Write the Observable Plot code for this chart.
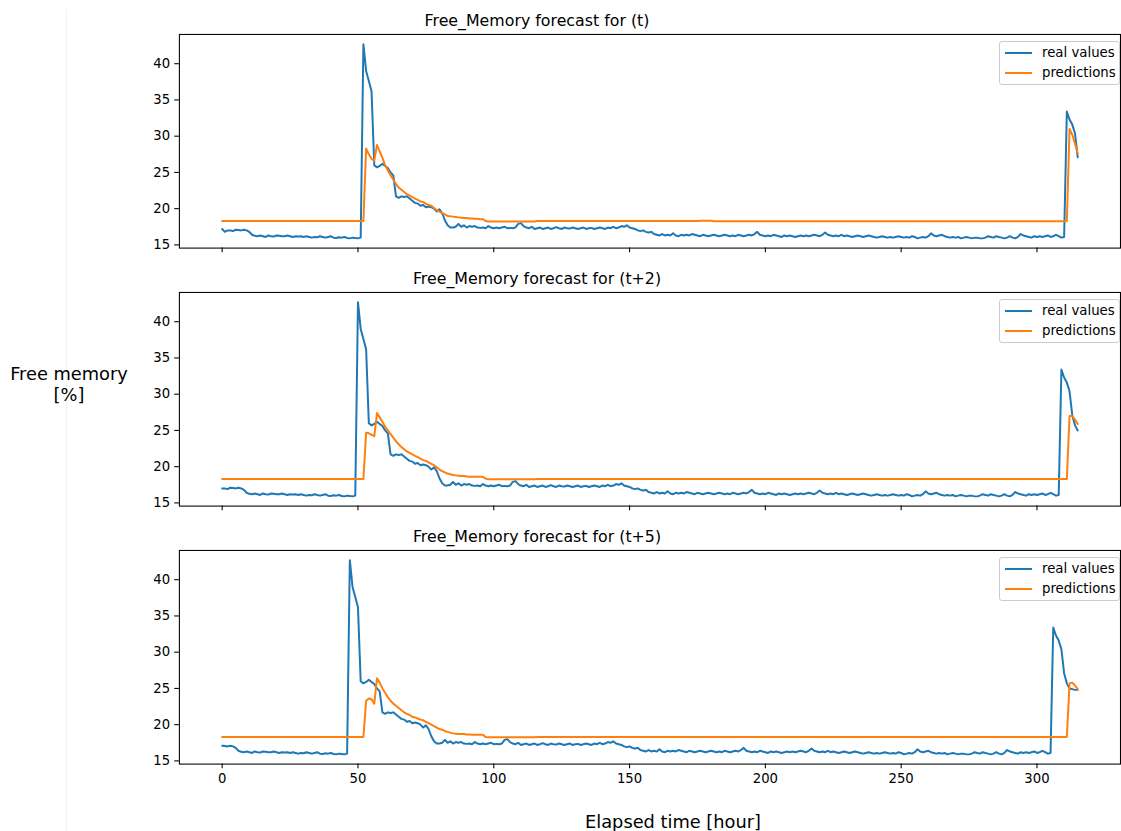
<!DOCTYPE html>
<html>
<head>
<meta charset="utf-8">
<script src="https://cdn.jsdelivr.net/npm/d3@7"></script>
<script src="https://cdn.jsdelivr.net/npm/@observablehq/plot@0.6"></script>
<style>
  html, body { margin: 0; padding: 0; background: #fff; }
  #root { position: relative; width: 1121px; height: 831px; overflow: hidden; font-family: "DejaVu Sans", sans-serif; color: #000; }
  .panel { position: absolute; left: 0; }
  .title { position: absolute; font-size: 15.8px; line-height: 15.8px; white-space: nowrap; transform: translateX(-50%); }
  .legend { position: absolute; left: 999px; width: 119px; height: 42px; border: 1px solid #cccccc; border-radius: 3px; background: rgba(255,255,255,0.8); }
  .legend .sw { position: absolute; left: 5px; width: 27px; height: 2px; }
  .legend .lab { position: absolute; left: 42px; font-size: 13.3px; line-height: 13.3px; white-space: nowrap; }
  .axlabel { position: absolute; font-size: 17.8px; white-space: nowrap; text-align: center; }
  .vline { position: absolute; left: 66px; top: 10px; width: 1px; height: 821px; background: #f2f2f2; }
</style>
</head>
<body>
<div id="root"></div>
<script>
// ---------------- data ----------------
const titles = ["Free_Memory forecast for (t)", "Free_Memory forecast for (t+2)", "Free_Memory forecast for (t+5)"];
const seriesNames = ["real values", "predictions"];
const xTicks = [0, 50, 100, 150, 200, 250, 300];
const yTicks = [15, 20, 25, 30, 35, 40];
const horizonShift = [0, 2, 5];   // real series is shifted by the forecast horizon

// real free-memory readings (hourly), index 0 = hour 0 of the (t) panel
const realValues = [
  17.2, 16.8, 17.0, 17.0, 16.9, 17.1, 17.05, 17.0, 17.1, 17.0, 16.8, 16.4, 16.25, 16.2, 16.3, 16.2, 16.1, 16.3, 16.2, 16.15,
  16.3, 16.25, 16.2, 16.2, 16.3, 16.2, 16.1, 16.2, 16.15, 16.2, 16.1, 16.2, 16.1, 16.0, 16.1, 16.05, 16.2, 16.1, 16.0, 16.1,
  16.2, 16.0, 15.95, 16.05, 16.0, 16.1, 15.95, 15.9, 16.0, 15.95, 15.9, 16.0, 42.7, 39.0, 37.6, 36.2, 26.0, 25.7, 25.9, 26.2,
  25.9, 25.6, 25.0, 24.6, 21.7, 21.5, 21.7, 21.6, 21.7, 21.4, 21.1, 20.8, 20.7, 20.4, 20.5, 20.2, 20.3, 20.2, 20.0, 19.6,
  19.9, 19.4, 18.4, 17.7, 17.4, 17.4, 17.5, 17.9, 17.5, 17.7, 17.4, 17.6, 17.5, 17.6, 17.4, 17.35, 17.4, 17.3, 17.6, 17.4,
  17.3, 17.4, 17.3, 17.4, 17.5, 17.3, 17.35, 17.3, 17.4, 17.9, 18.0, 17.6, 17.4, 17.3, 17.5, 17.2, 17.3, 17.4, 17.2, 17.3,
  17.4, 17.2, 17.3, 17.45, 17.3, 17.2, 17.4, 17.3, 17.25, 17.4, 17.3, 17.2, 17.3, 17.4, 17.2, 17.3, 17.35, 17.2, 17.3, 17.4,
  17.3, 17.2, 17.4, 17.3, 17.5, 17.3, 17.4, 17.6, 17.5, 17.7, 17.4, 17.3, 17.2, 17.0, 16.9, 17.0, 16.8, 16.7, 16.8, 16.5,
  16.4, 16.3, 16.5, 16.3, 16.4, 16.3, 16.6, 16.3, 16.2, 16.4, 16.3, 16.4, 16.3, 16.5, 16.4, 16.3, 16.2, 16.4, 16.3, 16.2,
  16.3, 16.4, 16.3, 16.2, 16.3, 16.4, 16.3, 16.2, 16.3, 16.2, 16.4, 16.3, 16.2, 16.3, 16.4, 16.3, 16.5, 16.8, 16.4, 16.3,
  16.2, 16.3, 16.2, 16.4, 16.3, 16.2, 16.1, 16.3, 16.2, 16.3, 16.2, 16.1, 16.2, 16.3, 16.2, 16.3, 16.2, 16.3, 16.4, 16.3,
  16.2, 16.4, 16.7, 16.4, 16.3, 16.2, 16.3, 16.2, 16.4, 16.2, 16.3, 16.2, 16.1, 16.2, 16.3, 16.2, 16.1, 16.2, 16.3, 16.2,
  16.1, 16.0, 16.1, 16.2, 16.1, 16.0, 16.1, 16.0, 16.1, 16.2, 16.1, 16.0, 16.1, 16.0, 16.2, 16.1, 15.9, 16.0, 16.1, 16.0,
  16.2, 16.6, 16.3, 16.2, 16.3, 16.4, 16.2, 16.1, 16.0, 16.1, 16.0, 16.1, 15.9, 16.0, 16.1, 16.0, 15.9, 16.0, 16.0, 15.9,
  15.9, 16.0, 16.2, 16.1, 16.0, 16.2, 16.1, 16.0, 15.9, 16.0, 16.2, 16.0, 15.9, 16.1, 16.5, 16.3, 16.2, 16.1, 16.0, 16.2,
  16.1, 16.2, 16.1, 16.2, 16.3, 16.1, 16.2, 16.4, 16.2, 16.0, 16.1, 33.4, 32.3, 31.6, 30.4, 27.1, 25.7, 25.0, 24.9, 24.8,
  24.8
];

// predictions, hours 0..315
const predT0 = [
  18.3, 18.3, 18.3, 18.3, 18.3, 18.3, 18.3, 18.3, 18.3, 18.3, 18.3, 18.3, 18.3, 18.3, 18.3, 18.3, 18.3, 18.3, 18.3, 18.3,
  18.3, 18.3, 18.3, 18.3, 18.3, 18.3, 18.3, 18.3, 18.3, 18.3, 18.3, 18.3, 18.3, 18.3, 18.3, 18.3, 18.3, 18.3, 18.3, 18.3,
  18.3, 18.3, 18.3, 18.3, 18.3, 18.3, 18.3, 18.3, 18.3, 18.3,
  18.3, 18.3, 18.3, 28.3, 27.5, 26.9, 26.6, 28.8, 27.9, 27.0,
  26.0, 25.3, 24.6, 24.0, 23.4, 22.9, 22.6, 22.3, 22.0, 21.8,
  21.6, 21.4, 21.2, 21.0, 20.9, 20.7, 20.5, 20.4, 20.1, 19.8,
  19.6, 19.4, 19.2, 19.0, 18.95, 18.9, 18.85, 18.8, 18.75, 18.7,
  18.7, 18.65, 18.65, 18.6, 18.6, 18.55, 18.55, 18.3, 18.22, 18.22,
  18.22, 18.22, 18.22, 18.22, 18.22, 18.22, 18.22, 18.22, 18.22, 18.22,
  18.22, 18.22, 18.22, 18.22, 18.22, 18.22, 18.3, 18.3, 18.3, 18.3,
  18.3, 18.3, 18.3, 18.3, 18.3, 18.3, 18.3, 18.3, 18.3, 18.3, 18.3, 18.3, 18.3, 18.3, 18.3, 18.3, 18.3, 18.3, 18.3, 18.3,
  18.3, 18.3, 18.3, 18.3, 18.3, 18.3, 18.3, 18.3, 18.3, 18.3, 18.3, 18.3, 18.3, 18.3, 18.3, 18.3, 18.3, 18.3, 18.3, 18.3,
  18.3, 18.3, 18.3, 18.3, 18.3, 18.3, 18.3, 18.3, 18.3, 18.3,
  18.3, 18.3, 18.3, 18.3, 18.3, 18.3, 18.33, 18.33, 18.33, 18.33,
  18.33, 18.27, 18.27, 18.27, 18.27, 18.27, 18.27, 18.27, 18.27, 18.27,
  18.27, 18.27, 18.27, 18.27, 18.27, 18.27, 18.27, 18.27, 18.27, 18.27, 18.27, 18.27, 18.27, 18.27, 18.27, 18.27, 18.27, 18.27, 18.27, 18.27,
  18.27, 18.27, 18.27, 18.27, 18.27, 18.27, 18.27, 18.27, 18.27, 18.27, 18.27, 18.27, 18.27, 18.27, 18.27, 18.27, 18.27, 18.27, 18.27, 18.27,
  18.27, 18.27, 18.27, 18.27, 18.27, 18.27, 18.27, 18.27, 18.27, 18.27, 18.27, 18.27, 18.27, 18.27, 18.27, 18.27, 18.27, 18.27, 18.27, 18.27,
  18.27, 18.27, 18.27, 18.27, 18.27, 18.27, 18.27, 18.27, 18.27, 18.27, 18.27, 18.27, 18.27, 18.27, 18.27, 18.27, 18.27, 18.27, 18.27, 18.27,
  18.27, 18.27, 18.27, 18.27, 18.27, 18.27, 18.27, 18.27, 18.27, 18.27, 18.27, 18.27, 18.27, 18.27, 18.27, 18.27, 18.27, 18.27, 18.27, 18.27,
  18.27, 18.27, 18.27, 18.27, 18.27, 18.27, 18.27, 18.27, 18.27, 18.27, 18.27, 18.27, 18.27, 18.27, 18.27, 18.27, 18.27, 18.27, 18.27, 18.27,
  18.27, 18.3, 31.0, 30.2, 29.0, 27.6
];

const predT2 = [
  18.3, 18.3, 18.3, 18.3, 18.3, 18.3, 18.3, 18.3, 18.3, 18.3, 18.3, 18.3, 18.3, 18.3, 18.3, 18.3, 18.3, 18.3, 18.3, 18.3,
  18.3, 18.3, 18.3, 18.3, 18.3, 18.3, 18.3, 18.3, 18.3, 18.3, 18.3, 18.3, 18.3, 18.3, 18.3, 18.3, 18.3, 18.3, 18.3, 18.3,
  18.3, 18.3, 18.3, 18.3, 18.3, 18.3, 18.3, 18.3, 18.3, 18.3,
  18.3, 18.3, 18.3, 24.7, 24.6, 24.4, 24.2, 27.4, 26.8, 26.2,
  25.5, 25.0, 24.5, 24.0, 23.5, 23.1, 22.7, 22.4, 22.1, 21.9,
  21.7, 21.5, 21.3, 21.1, 20.9, 20.8, 20.6, 20.4, 20.2, 19.9,
  19.6, 19.4, 19.2, 19.05, 18.95, 18.85, 18.8, 18.75, 18.7, 18.7,
  18.65, 18.6, 18.6, 18.6, 18.6, 18.6, 18.6, 18.35, 18.25, 18.25,
  18.25, 18.25, 18.25, 18.25, 18.25, 18.25, 18.25, 18.25, 18.25, 18.25,
  18.25, 18.25, 18.25, 18.25, 18.25, 18.25, 18.3, 18.3, 18.3, 18.3,
  18.3, 18.3, 18.3, 18.3, 18.3, 18.3, 18.3, 18.3, 18.3, 18.3, 18.3, 18.3, 18.3, 18.3, 18.3, 18.3, 18.3, 18.3, 18.3, 18.3,
  18.3, 18.3, 18.3, 18.3, 18.3, 18.3, 18.3, 18.3, 18.3, 18.3, 18.3, 18.3, 18.3, 18.3, 18.3, 18.3, 18.3, 18.3, 18.3, 18.3,
  18.3, 18.3, 18.3, 18.3, 18.3, 18.3, 18.3, 18.3, 18.3, 18.3, 18.3, 18.3, 18.3, 18.3, 18.3, 18.3, 18.3, 18.3, 18.3, 18.3,
  18.3, 18.3, 18.3, 18.3, 18.3, 18.3, 18.3, 18.3, 18.3, 18.3, 18.3, 18.3, 18.3, 18.3, 18.3, 18.3, 18.3, 18.3, 18.3, 18.3,
  18.3, 18.3, 18.3, 18.3, 18.3, 18.3, 18.3, 18.3, 18.3, 18.3, 18.3, 18.3, 18.3, 18.3, 18.3, 18.3, 18.3, 18.3, 18.3, 18.3,
  18.3, 18.3, 18.3, 18.3, 18.3, 18.3, 18.3, 18.3, 18.3, 18.3, 18.3, 18.3, 18.3, 18.3, 18.3, 18.3, 18.3, 18.3, 18.3, 18.3,
  18.3, 18.3, 18.3, 18.3, 18.3, 18.3, 18.3, 18.3, 18.3, 18.3, 18.3, 18.3, 18.3, 18.3, 18.3, 18.3, 18.3, 18.3, 18.3, 18.3,
  18.3, 18.3, 18.3, 18.3, 18.3, 18.3, 18.3, 18.3, 18.3, 18.3, 18.3, 18.3, 18.3, 18.3, 18.3, 18.3, 18.3, 18.3, 18.3, 18.3,
  18.3, 18.3, 18.3, 18.3, 18.3, 18.3, 18.3, 18.3, 18.3, 18.3, 18.3, 18.3, 18.3, 18.3, 18.3, 18.3, 18.3, 18.3, 18.3, 18.3,
  18.3, 18.3, 18.3, 18.3, 18.3, 18.3, 18.3, 18.3, 18.3, 18.3,
  18.3, 18.3, 27.0, 27.0, 26.5, 25.9
];

const predT5 = [
  18.3, 18.3, 18.3, 18.3, 18.3, 18.3, 18.3, 18.3, 18.3, 18.3, 18.3, 18.3, 18.3, 18.3, 18.3, 18.3, 18.3, 18.3, 18.3, 18.3,
  18.3, 18.3, 18.3, 18.3, 18.3, 18.3, 18.3, 18.3, 18.3, 18.3, 18.3, 18.3, 18.3, 18.3, 18.3, 18.3, 18.3, 18.3, 18.3, 18.3,
  18.3, 18.3, 18.3, 18.3, 18.3, 18.3, 18.3, 18.3, 18.3, 18.3,
  18.3, 18.3, 18.3, 23.3, 23.6, 23.5, 22.9, 26.4, 25.8, 25.0,
  24.4, 23.8, 23.3, 22.9, 22.6, 22.3, 22.0, 21.7, 21.5, 21.3,
  21.1, 21.0, 20.85, 20.7, 20.6, 20.4, 20.2, 20.0, 19.8, 19.6,
  19.4, 19.3, 19.1, 19.0, 18.9, 18.8, 18.75, 18.7, 18.7, 18.7,
  18.65, 18.65, 18.6, 18.6, 18.6, 18.6, 18.6, 18.3, 18.25, 18.25,
  18.25, 18.25, 18.25, 18.25, 18.25, 18.25, 18.25, 18.25, 18.25, 18.25,
  18.25, 18.25, 18.25, 18.25, 18.25, 18.25, 18.3, 18.3, 18.3, 18.3,
  18.3, 18.3, 18.3, 18.3, 18.3, 18.3, 18.3, 18.3, 18.3, 18.3, 18.3, 18.3, 18.3, 18.3, 18.3, 18.3, 18.3, 18.3, 18.3, 18.3,
  18.3, 18.3, 18.3, 18.3, 18.3, 18.3, 18.3, 18.3, 18.3, 18.3, 18.3, 18.3, 18.3, 18.3, 18.3, 18.3, 18.3, 18.3, 18.3, 18.3,
  18.3, 18.3, 18.3, 18.3, 18.3, 18.3, 18.3, 18.3, 18.3, 18.3, 18.3, 18.3, 18.3, 18.3, 18.3, 18.3, 18.3, 18.3, 18.3, 18.3,
  18.3, 18.3, 18.3, 18.3, 18.3, 18.3, 18.3, 18.3, 18.3, 18.3, 18.3, 18.3, 18.3, 18.3, 18.3, 18.3, 18.3, 18.3, 18.3, 18.3,
  18.3, 18.3, 18.3, 18.3, 18.3, 18.3, 18.3, 18.3, 18.3, 18.3, 18.3, 18.3, 18.3, 18.3, 18.3, 18.3, 18.3, 18.3, 18.3, 18.3,
  18.3, 18.3, 18.3, 18.3, 18.3, 18.3, 18.3, 18.3, 18.3, 18.3, 18.3, 18.3, 18.3, 18.3, 18.3, 18.3, 18.3, 18.3, 18.3, 18.3,
  18.3, 18.3, 18.3, 18.3, 18.3, 18.3, 18.3, 18.3, 18.3, 18.3, 18.3, 18.3, 18.3, 18.3, 18.3, 18.3, 18.3, 18.3, 18.3, 18.3,
  18.3, 18.3, 18.3, 18.3, 18.3, 18.3, 18.3, 18.3, 18.3, 18.3, 18.3, 18.3, 18.3, 18.3, 18.3, 18.3, 18.3, 18.3, 18.3, 18.3,
  18.3, 18.3, 18.3, 18.3, 18.3, 18.3, 18.3, 18.3, 18.3, 18.3, 18.3, 18.3, 18.3, 18.3, 18.3, 18.3, 18.3, 18.3, 18.3, 18.3,
  18.3, 18.3, 18.3, 18.3, 18.3, 18.3, 18.3, 18.3, 18.3, 18.3,
  18.3, 18.3, 25.7, 25.8, 25.4, 24.9
];
const predictions = [predT0, predT2, predT5];

// ---------------- layout ----------------
const colors = ["#1f77b4", "#ff7f0e"];
const frameTops = [34, 292, 550];
const frameH = 215;
const mTop = 10, mBottom = 30;
const xDomain = [-15.75, 330.75];
const yDomain = [14.56, 44.04];

const root = document.getElementById("root");

const vline = document.createElement("div");
vline.className = "vline";
root.appendChild(vline);

predictions.forEach((pred, p) => {
  const n = pred.length;
  const real = realValues.slice(horizonShift[p], horizonShift[p] + n).map((v, i) => ({x: i, y: v}));
  const pr = pred.map((v, i) => ({x: i, y: v}));
  const isBottom = p === predictions.length - 1;

  const svg = Plot.plot({
    width: 1128,
    height: frameH + mTop + mBottom,
    marginLeft: 180,
    marginRight: 1,
    marginTop: mTop,
    marginBottom: mBottom,
    x: {domain: xDomain},
    y: {domain: yDomain},
    style: {fontFamily: "DejaVu Sans, sans-serif", fontSize: "13.3px", color: "#000", background: "transparent", overflow: "visible"},
    marks: [
      Plot.axisY({ticks: yTicks, tickSize: 4.7, tickPadding: 4.7, fontSize: 13.3, label: null, strokeWidth: 1.07}),
      Plot.axisX({ticks: xTicks, tickSize: 4.7, tickPadding: 4.7, fontSize: 13.3, label: null, strokeWidth: 1.07,
                  tickFormat: isBottom ? (d => String(d)) : (() => "")}),
      Plot.line(real, {x: "x", y: "y", stroke: colors[0], strokeWidth: 2}),
      Plot.line(pr, {x: "x", y: "y", stroke: colors[1], strokeWidth: 2}),
      Plot.frame({stroke: "#000", strokeWidth: 1.07})
    ]
  });
  svg.classList.add("panel");
  svg.style.top = (frameTops[p] - mTop) + "px";
  root.appendChild(svg);

  // title
  const t = document.createElement("div");
  t.className = "title";
  t.textContent = titles[p];
  t.style.left = "537px";
  t.style.top = (frameTops[p] - 8 - 13.4) + "px";
  root.appendChild(t);

  // legend
  const lg = document.createElement("div");
  lg.className = "legend";
  lg.style.top = (frameTops[p] + 7) + "px";
  seriesNames.forEach((name, k) => {
    const cy = 11 + k * 20;
    const sw = document.createElement("div");
    sw.className = "sw";
    sw.style.top = (cy - 1) + "px";
    sw.style.background = colors[k];
    lg.appendChild(sw);
    const lab = document.createElement("div");
    lab.className = "lab";
    lab.style.top = (cy - 6.9) + "px";
    lab.textContent = name;
    lg.appendChild(lab);
  });
  root.appendChild(lg);
});

// axis labels
const yl = document.createElement("div");
yl.className = "axlabel";
yl.style.lineHeight = "21.4px";
yl.style.left = "69px";
yl.style.top = "362.6px";
yl.style.transform = "translateX(-50%)";
yl.innerHTML = "Free memory<br>[%]";
root.appendChild(yl);

const xl = document.createElement("div");
xl.className = "axlabel";
xl.style.lineHeight = "17.8px";
xl.style.left = "673px";
xl.style.top = "813.4px";
xl.style.transform = "translateX(-50%)";
xl.textContent = "Elapsed time [hour]";
root.appendChild(xl);
</script>
</body>
</html>
